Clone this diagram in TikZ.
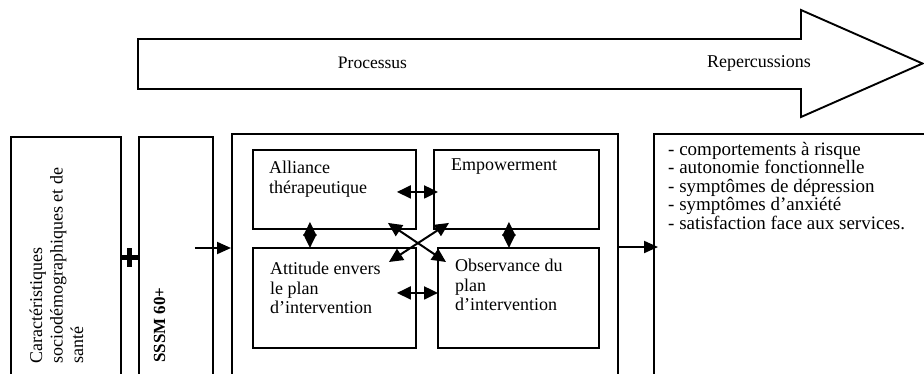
\documentclass[tikz,border=0pt]{standalone}
\usepackage{fontspec}
\setmainfont{Liberation Serif}
\usetikzlibrary{arrows.meta,calc}
\begin{document}
\begin{tikzpicture}[x=1pt,y=-1pt,
  box/.style={draw,line width=1.9pt,rectangle,inner sep=0pt,anchor=north west},
  dbl/.style={line width=2pt,{Triangle[length=14pt,width=13pt]}-{Triangle[length=14pt,width=13pt]}},
  sgl/.style={line width=2pt,-{Triangle[length=14pt,width=12pt]}},
  lbl/.style={inner sep=0pt,align=left,anchor=north west,font=\fontsize{18}{19.5}\selectfont},
  biglbl/.style={inner sep=0pt,anchor=base}
]
\useasboundingbox (0,0) rectangle (924,373);
\clip (0,0) rectangle (924,373);
\fill[white] (0,0) rectangle (924,373);

% big arrow
\draw[line width=1.9pt,line join=miter] (138,39) -- (801,39) -- (801,10) -- (922.5,63.5) -- (801,117) -- (801,89) -- (138,89) -- cycle;
\node[biglbl,font=\fontsize{17.5}{20}\selectfont] (proclbl) at (372.5,68) {Processus};
\node[biglbl,font=\fontsize{18}{20}\selectfont] (replbl) at (759,67) {Repercussions};

% outer boxes
\node[box,minimum width=110pt,minimum height=244pt] (carac) at (10,136) {};
\node[box,minimum width=74pt,minimum height=244pt] (sssm) at (138,136) {};
\node[box,minimum width=386pt,minimum height=247pt] (proc) at (231,133) {};
\node[box,minimum width=282pt,minimum height=247pt] (rep) at (653,133) {};

% rotated texts
\node[rotate=90,inner sep=0pt,align=left,anchor=north west,font=\fontsize{18}{20.5}\selectfont] (caract) at (29.5,364) {Caractéristiques\\sociodémographiques et de\\santé};
\node[rotate=90,inner sep=0pt,anchor=base west,font=\bfseries\fontsize{17}{20}\selectfont] (sssmt) at (165,363) {SSSM 60+};

% plus sign
\draw[line width=5pt] ($(carac.north east)+(0,121.5)$) -- ($(sssm.north west)+(0,121.5)$);
\draw[line width=5.5pt] (129.5,248) -- (129.5,267);

% inner boxes
\node[box,minimum width=163pt,minimum height=79pt] (all) at (252,149) {};
\node[box,minimum width=165pt,minimum height=79pt] (emp) at (433,149) {};
\node[box,minimum width=163pt,minimum height=100pt] (att) at (252,247) {};
\node[box,minimum width=161pt,minimum height=100pt] (obs) at (437,247) {};

\node[lbl] (allt) at (269,161) {Alliance\\thérapeutique};
\node[lbl] (empt) at (451,159) {Empowerment};
\node[lbl] (attt) at (270,262) {Attitude envers\\le plan\\d’intervention};
\node[lbl] (obst) at (455,259) {Observance du\\plan\\d’intervention};

\node[inner sep=0pt,align=left,anchor=north west,font=\fontsize{19}{18.5}\selectfont] (rept) at (668,142) {- comportements à risque\\- autonomie fonctionnelle\\- symptômes de dépression\\- symptômes d’anxiété\\- satisfaction face aux services.};

% connectors
\draw[dbl] ($(all.east)+(-20,2.5)$) -- ($(emp.west)+(5,2.5)$);
\draw[dbl] ($(att.east)+(-20,-5)$) -- ($(obs.west)+(1,-5)$);
\draw[dbl] ($(all.south)+(-24.5,-8)$) -- ($(att.north)+(-24.5,1)$);
\draw[dbl] ($(emp.south)+(-7.5,-8)$) -- ($(obs.north)+(-9.5,1)$);
\draw[dbl] ($(all.south east)+(-29,-7)$) -- ($(obs.north west)+(9,15)$);
\draw[dbl] ($(emp.south west)+(16,-7)$) -- ($(att.north east)+(-28,15)$);
\draw[sgl] ($(sssm.north east)+(-19,112)$) -- ($(proc.north west)+(0,115)$);
\draw[sgl] ($(proc.north east)+(0,114)$) -- ($(rep.north west)+(5,114)$);
\end{tikzpicture}
\end{document}
